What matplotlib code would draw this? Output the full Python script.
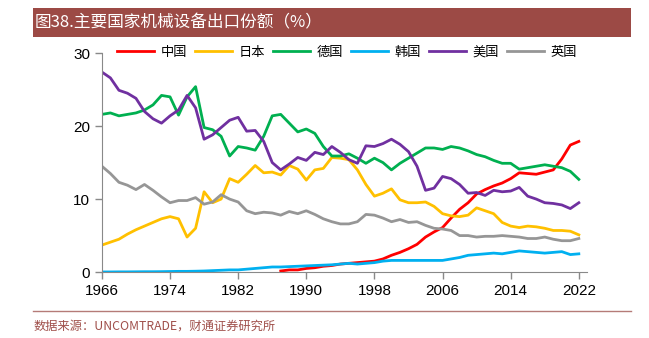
import matplotlib
matplotlib.use("Agg")
import matplotlib.pyplot as plt
from matplotlib.patches import Rectangle
import numpy as np

plt.rcParams['font.family'] = ['Liberation Sans', 'Noto Sans CJK SC', 'DejaVu Sans']

years = np.arange(1966, 2023)
china_years = np.arange(1987, 2023)

# 美国
usa = [27.4, 26.6, 24.9, 24.5, 23.8, 22.0, 21.0, 20.4, 21.4, 22.2,
       24.2, 22.5, 18.2, 18.8, 19.8, 20.8, 21.2, 19.3, 19.4, 17.9,
       15.0, 14.0, 14.8, 15.7, 15.3, 16.4, 16.1, 17.2, 16.4, 15.4,
       14.9, 17.3, 17.2, 17.6, 18.2, 17.5, 16.5, 14.5, 11.2, 11.5,
       13.1, 12.8, 12.0, 10.8, 10.9, 10.5, 11.2, 11.0, 11.1, 11.6,
       10.4, 10.0, 9.5, 9.4, 9.2, 8.7, 9.5]
# 德国
germany = [21.6, 21.8, 21.4, 21.6, 21.8, 22.2, 22.9, 24.2, 24.0, 21.5,
           24.0, 25.4, 19.8, 19.5, 18.6, 15.9, 17.2, 17.0, 16.7, 18.6,
           21.4, 21.6, 20.4, 19.2, 19.6, 19.0, 17.2, 15.9, 15.9, 16.2,
           15.6, 14.9, 15.6, 15.0, 14.0, 14.9, 15.6, 16.3, 17.0, 17.0,
           16.8, 17.2, 17.0, 16.6, 16.1, 15.8, 15.3, 14.9, 14.9, 14.1,
           14.3, 14.5, 14.7, 14.5, 14.3, 13.8, 12.7]
# 日本
japan = [3.7, 4.1, 4.5, 5.2, 5.8, 6.3, 6.8, 7.3, 7.6, 7.3,
         4.8, 6.0, 11.0, 9.5, 10.0, 12.8, 12.3, 13.4, 14.6, 13.6,
         13.7, 13.3, 14.6, 14.1, 12.6, 14.0, 14.2, 15.7, 15.6, 15.4,
         14.0, 12.0, 10.4, 10.8, 11.4, 9.9, 9.5, 9.5, 9.6, 9.0,
         8.0, 7.7, 7.6, 7.8, 8.8, 8.4, 8.0, 6.8, 6.3, 6.1,
         6.3, 6.2, 6.0, 5.7, 5.7, 5.6, 5.1]
# 英国
uk = [14.5, 13.5, 12.3, 11.9, 11.3, 12.0, 11.2, 10.3, 9.5, 9.8,
      9.8, 10.2, 9.3, 9.6, 10.6, 10.0, 9.6, 8.4, 8.0, 8.2,
      8.1, 7.8, 8.3, 8.0, 8.4, 7.9, 7.3, 6.9, 6.6, 6.6,
      6.9, 7.9, 7.8, 7.4, 6.9, 7.2, 6.8, 6.9, 6.4, 6.0,
      5.9, 5.7, 5.0, 5.0, 4.8, 4.9, 4.9, 5.0, 4.9, 4.8,
      4.6, 4.6, 4.8, 4.5, 4.3, 4.3, 4.6]
# 韩国
korea = [0.02, 0.02, 0.03, 0.03, 0.04, 0.05, 0.05, 0.06, 0.08, 0.1,
         0.1, 0.12, 0.15, 0.2, 0.25, 0.3, 0.3, 0.4, 0.5, 0.6,
         0.7, 0.7, 0.75, 0.8, 0.85, 0.9, 0.95, 1.0, 1.1, 1.2,
         1.1, 1.2, 1.3, 1.5, 1.6, 1.6, 1.6, 1.6, 1.6, 1.6,
         1.6, 1.8, 2.0, 2.3, 2.4, 2.5, 2.6, 2.5, 2.7, 2.9,
         2.8, 2.7, 2.6, 2.7, 2.8, 2.4, 2.5]
# 中国 (1987-2022)
china = [0.15, 0.3, 0.3, 0.5, 0.6, 0.8, 0.9, 1.1, 1.2, 1.3,
         1.4, 1.5, 1.8, 2.3, 2.7, 3.2, 3.8, 4.8, 5.5, 6.1,
         7.4, 8.6, 9.5, 10.7, 11.3, 11.8, 12.2, 12.8, 13.6, 13.5,
         13.4, 13.7, 14.0, 15.5, 17.4, 17.9]

xticks = [1966, 1974, 1982, 1990, 1998, 2006, 2014, 2022]
yticks = [0, 10, 20, 30]

fig = plt.figure(figsize=(6.49, 3.38), dpi=100)
ax = fig.add_axes([0.157, 0.195, 0.748, 0.648])

lw = 2.0
ax.plot(china_years, china, color='#FF0000', lw=lw, label='中国')
ax.plot(years, japan, color='#FFC000', lw=lw, label='日本')
ax.plot(years, germany, color='#00B050', lw=lw, label='德国')
ax.plot(years, korea, color='#00B0F0', lw=lw, label='韩国')
ax.plot(years, usa, color='#7030A0', lw=lw, label='美国')
ax.plot(years, uk, color='#969696', lw=lw, label='英国')

ax.set_xlim(1966, 2023)
ax.set_ylim(0, 30)
ax.set_xticks(xticks)
ax.set_yticks(yticks)
ax.tick_params(axis='both', labelsize=11, colors='#000000', length=5, width=1, color='#898989')
for s in ['top', 'right']:
    ax.spines[s].set_visible(False)
for s in ['left', 'bottom']:
    ax.spines[s].set_color('#898989')

fig.legend(loc='center', bbox_to_anchor=(0.535, 0.846), ncol=6, frameon=False,
           prop={'family': ['Noto Sans CJK SC'], 'size': 9.5},
           handlelength=2.8, columnspacing=0.6, handletextpad=0.5)

# title bar
fig.patches.append(Rectangle((0.051, 0.891), 0.921, 0.085, transform=fig.transFigure,
                             facecolor='#9C4A45', edgecolor='none'))
fig.text(0.054, 0.933, '图38.主要国家机械设备出口份额（%）', color='white', fontsize=12,
         va='center', ha='left', family=['Noto Sans CJK SC', 'DejaVu Sans'])

# source line and text
fig.add_artist(plt.Line2D([0.051, 0.972], [0.080, 0.080], transform=fig.transFigure,
                          color='#B57B78', lw=1))
fig.text(0.051, 0.035, '数据来源：UNCOMTRADE，财通证券研究所', color='#A0504B', fontsize=8.8,
         va='center', ha='left', family=['Noto Sans CJK SC', 'DejaVu Sans'])

fig.savefig('out.png', dpi=100)
